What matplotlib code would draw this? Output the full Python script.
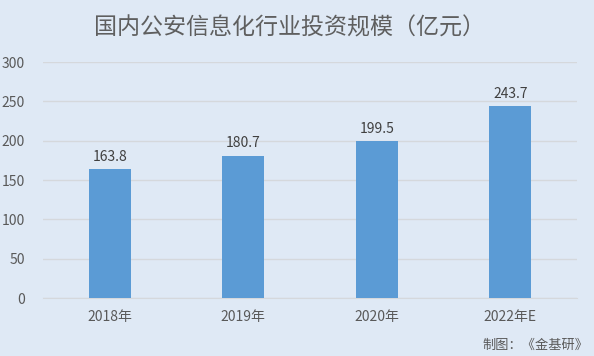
import matplotlib
matplotlib.use("Agg")
import matplotlib.pyplot as plt

categories = ["2018年", "2019年", "2020年", "2022年E"]
values = [163.8, 180.7, 199.5, 243.7]
yticks = [0, 50, 100, 150, 200, 250, 300]
title = "国内公安信息化行业投资规模（亿元）"
source = "制图：《金基研》"

plt.rcParams['font.family'] = ['Noto Sans CJK SC', 'DejaVu Sans']

bg = "#dfe9f5"
fig = plt.figure(figsize=(5.94, 3.56), dpi=100, facecolor=bg)
ax = fig.add_axes([43/594, 1-298/356, (577-43)/594, (298-62)/356], facecolor=bg)

x = range(len(categories))
bars = ax.bar(x, values, width=0.315, color="#5b9bd5", zorder=3)
for xi, v in zip(x, values):
    ax.text(xi, v + 7, f"{v:.1f}", ha="center", va="bottom", fontsize=10, color="#404040")

ax.set_xlim(-0.5, len(categories) - 0.5)
ax.set_ylim(0, 300)
ax.set_yticks(yticks)
ax.set_xticks(list(x))
ax.set_xticklabels(categories)
ax.yaxis.grid(True, color="#d5d8dc", linewidth=1, zorder=0)
for s in ["top", "right", "left"]:
    ax.spines[s].set_visible(False)
ax.spines["bottom"].set_color("#d5d8dc")
ax.tick_params(axis="y", length=0, pad=13, labelsize=10, labelcolor="#595959")
ax.tick_params(axis="x", length=0, pad=9, labelsize=10, labelcolor="#595959")

fig.text(290/594, 1-28/356, title, ha="center", va="center", fontsize=16.6, color="#5f5f5f")
fig.text(588/594, 1-345/356, source, ha="right", va="center", fontsize=9.5, color="#595959")

fig.savefig("out.png", dpi=100, facecolor=bg)
